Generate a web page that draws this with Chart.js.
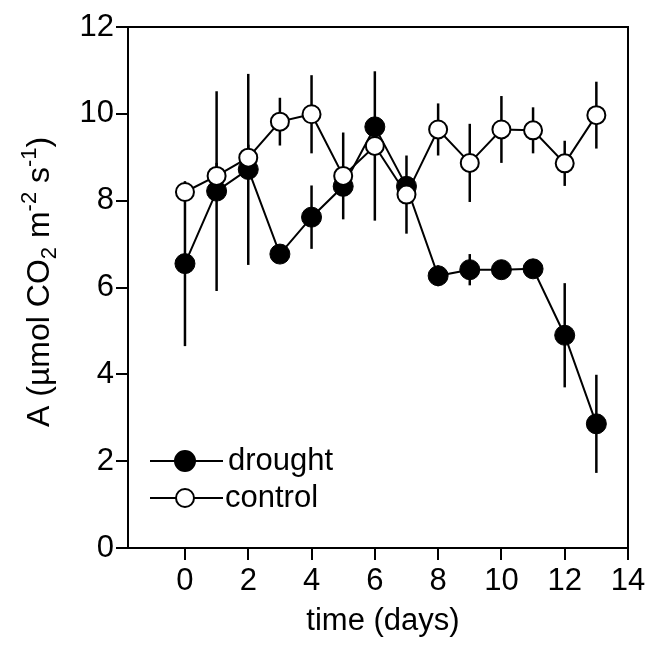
<!DOCTYPE html>
<html><head><meta charset="utf-8">
<script src="https://cdn.jsdelivr.net/npm/chart.js@4/dist/chart.umd.min.js"></script>
<style>html,body{margin:0;padding:0;background:#fff}canvas{display:block}</style>
</head><body>
<canvas id="c" width="654" height="645"></canvas>
<script>
// ---- data ----
const days = [0, 1, 2, 3, 4, 5, 6, 7, 8, 9, 10, 11, 12, 13];
const drought    = [6.55, 8.22, 8.72, 6.77, 7.62, 8.33, 9.70, 8.33, 6.27, 6.41, 6.41, 6.43, 4.90, 2.86];
const droughtErr = [1.90, 2.30, 2.20, 0.15, 0.73, 0.20, 0.20, 0.20, 0.24, 0.36, 0.15, 0.15, 1.20, 1.13];
const control    = [8.20, 8.57, 8.99, 9.82, 9.99, 8.57, 9.26, 8.14, 9.64, 8.87, 9.64, 9.62, 8.86, 9.97];
const controlErr = [0.20, 0.30, 0.30, 0.55, 0.90, 1.00, 1.72, 0.90, 0.60, 0.90, 0.77, 0.53, 0.52, 0.77];
const xTicks = [0, 2, 4, 6, 8, 10, 12, 14];
const yTicks = [0, 2, 4, 6, 8, 10, 12];
const seriesNames = ['drought', 'control'];
const xTitle = 'time (days)';

const FONT = '"Liberation Sans", Arial, Helvetica, sans-serif';

const errorBars = {
  id: 'errorBars',
  beforeDatasetsDraw(chart) {
    const { ctx, scales: { x, y } } = chart;
    ctx.save();
    ctx.strokeStyle = '#000';
    ctx.lineWidth = 2.5;
    [[drought, droughtErr], [control, controlErr]].forEach(([vals, errs]) => {
      vals.forEach((v, i) => {
        const px = x.getPixelForValue(days[i]);
        ctx.beginPath();
        ctx.moveTo(px, y.getPixelForValue(v - errs[i]));
        ctx.lineTo(px, y.getPixelForValue(v + errs[i]));
        ctx.stroke();
      });
    });
    ctx.restore();
  }
};

const decor = {
  id: 'decor',
  afterDraw(chart) {
    const { ctx, chartArea: a } = chart;
    ctx.save();
    // top and right frame
    ctx.strokeStyle = '#000';
    ctx.lineWidth = 2;
    ctx.beginPath();
    ctx.moveTo(a.left, a.top);
    ctx.lineTo(a.right, a.top);
    ctx.lineTo(a.right, a.bottom);
    ctx.stroke();

    // x title
    ctx.fillStyle = '#000';
    ctx.font = '31px ' + FONT;
    ctx.textAlign = 'center';
    ctx.textBaseline = 'alphabetic';
    ctx.fillText(xTitle, (a.left + a.right) / 2 + 5, 630);

    // y title with sub/superscripts
    ctx.save();
    ctx.translate(49, 427);
    ctx.rotate(-Math.PI / 2);
    ctx.textAlign = 'left';
    const big = '32px ' + FONT, small = '22px ' + FONT;
    const parts = [
      ['A (\u00b5mol CO', big, 0],
      ['2', small, 7],
      [' m', big, 0],
      ['-2', small, -13],
      [' s', big, 0],
      ['-1', small, -13],
      [')', big, 0]
    ];
    let cx = 0;
    parts.forEach(([t, f, dy]) => {
      ctx.font = f;
      ctx.fillText(t, cx, dy);
      cx += ctx.measureText(t).width;
    });
    ctx.restore();

    // legend
    const items = [
      { name: seriesNames[0], y: 461, fill: '#000', r: 10, tx: 228 },
      { name: seriesNames[1], y: 498, fill: '#fff', r: 9, tx: 225 }
    ];
    items.forEach(it => {
      ctx.strokeStyle = '#000';
      ctx.lineWidth = 2;
      ctx.beginPath();
      ctx.moveTo(150, it.y);
      ctx.lineTo(223, it.y);
      ctx.stroke();
      ctx.beginPath();
      ctx.arc(185, it.y, it.r, 0, Math.PI * 2);
      ctx.fillStyle = it.fill;
      ctx.fill();
      ctx.stroke();
      ctx.fillStyle = '#000';
      ctx.font = '31px ' + FONT;
      ctx.textAlign = 'left';
      ctx.textBaseline = 'middle';
      ctx.fillText(it.name, it.tx, it.y);
    });
    ctx.restore();
  }
};

function zeroPad(scale) {
  scale.paddingTop = 0; scale.paddingBottom = 0;
  scale.paddingLeft = 0; scale.paddingRight = 0;
}

new Chart(document.getElementById('c'), {
  type: 'line',
  data: {
    labels: days,
    datasets: [
      {
        label: seriesNames[0],
        data: days.map((d, i) => ({ x: d, y: drought[i] })),
        borderColor: '#000', borderWidth: 2,
        pointBackgroundColor: '#000', pointBorderColor: '#000',
        pointRadius: 10, pointBorderWidth: 1, pointHoverRadius: 10,
        tension: 0, order: 1
      },
      {
        label: seriesNames[1],
        data: days.map((d, i) => ({ x: d, y: control[i] })),
        borderColor: '#000', borderWidth: 2,
        pointBackgroundColor: '#fff', pointBorderColor: '#000',
        pointRadius: 9, pointBorderWidth: 2, pointHoverRadius: 9,
        tension: 0, order: 0
      }
    ]
  },
  options: {
    responsive: false,
    animation: false,
    devicePixelRatio: 1,
    layout: { padding: { left: 0, right: 26, top: 27, bottom: 0 } },
    plugins: { legend: { display: false }, tooltip: { enabled: false } },
    scales: {
      x: {
        type: 'linear', min: -1.8, max: 14,
        afterBuildTicks: s => { s.ticks = xTicks.map(v => ({ value: v })); },
        afterFit: s => { s.height = 97; zeroPad(s); },
        grid: { drawOnChartArea: false, drawTicks: true, tickLength: 12, color: '#000', lineWidth: 2 },
        border: { display: true, color: '#000', width: 2 },
        ticks: { color: '#000', font: { family: FONT, size: 31 }, padding: 3, maxRotation: 0, autoSkip: false }
      },
      y: {
        type: 'linear', min: 0, max: 12,
        afterBuildTicks: s => { s.ticks = yTicks.map(v => ({ value: v })); },
        afterFit: s => { s.width = 128; zeroPad(s); },
        grid: { drawOnChartArea: false, drawTicks: true, tickLength: 12, color: '#000', lineWidth: 2 },
        border: { display: true, color: '#000', width: 2 },
        ticks: { color: '#000', font: { family: FONT, size: 31 }, padding: 2, autoSkip: false }
      }
    }
  },
  plugins: [errorBars, decor]
});
</script>
</body></html>
